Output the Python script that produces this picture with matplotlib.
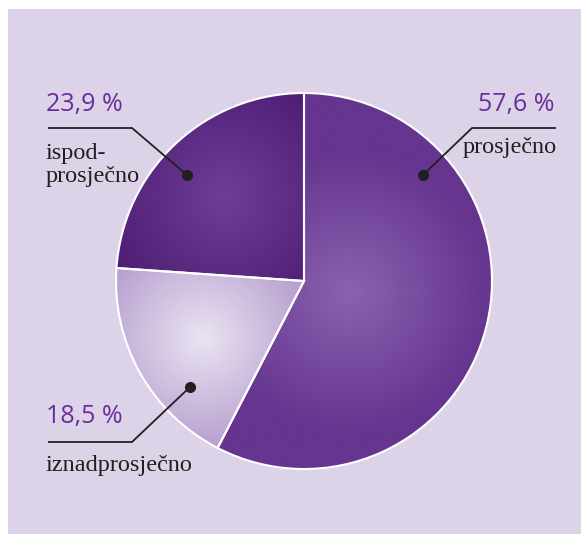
import numpy as np
import matplotlib
matplotlib.use("Agg")
import matplotlib.pyplot as plt
from matplotlib.colors import to_rgb

# podaci
labels = ["prosječno", "iznadprosječno", "ispod-\nprosječno"]
shares = [57.6, 18.5, 23.9]
pct_text = ["57,6 %", "18,5 %", "23,9 %"]
edge_colors = ["#65358f", "#a78cc5", "#4b1a70"]
center_colors = ["#8a62b0", "#ebe4f2", "#6e3f98"]
glow_pos = [0.25, 0.62, 0.62]

W, H = 581, 534
fig = plt.figure(figsize=(W / 100, H / 100), dpi=100)
fig.patch.set_facecolor("white")
ax = fig.add_axes([0, 0, 1, 1])

bg = plt.Rectangle((8, 0), W - 8, H - 9, facecolor="#dcd3e8", edgecolor="none", zorder=0)
ax.add_patch(bg)

cx, cy, R = 304, H - 281, 188
wedges, _ = ax.pie(shares, startangle=90, counterclock=False, center=(cx, cy), radius=R,
                   colors=edge_colors, wedgeprops=dict(edgecolor="white", linewidth=1.5),
                   frame=True)

# radijalni gradijent u svakom isječku
n = 400
xs = np.linspace(cx - R, cx + R, n)
ys = np.linspace(cy - R, cy + R, n)
gx, gy = np.meshgrid(xs, ys)
for w, c0, c1, gp in zip(wedges, center_colors, edge_colors, glow_pos):
    mid = np.deg2rad((w.theta1 + w.theta2) / 2)
    hx, hy = cx + gp * R * np.cos(mid), cy + gp * R * np.sin(mid)
    d = np.sqrt((gx - hx) ** 2 + (gy - hy) ** 2) / (R * 0.75)
    t = np.clip(d, 0, 1)[..., None]
    img = np.array(to_rgb(c0)) * (1 - t) + np.array(to_rgb(c1)) * t
    im = ax.imshow(img, extent=(cx - R, cx + R, cy - R, cy + R), origin="lower",
                   zorder=w.get_zorder() + 0.1, interpolation="bilinear")
    im.set_clip_path(w)
    w.set_facecolor("none")
    w.set_zorder(w.get_zorder() + 0.2)

ax.set_xlim(0, W)
ax.set_ylim(0, H)
ax.set_aspect("auto")
ax.axis("off")

pct_font = dict(family="Open Sans", fontsize=18, color="#6a2d9c")
lab_font = dict(family="Liberation Serif", fontsize=17.5, color="#231f20")

def leader(pts, dot):
    px = [p[0] for p in pts]
    py = [H - p[1] for p in pts]
    ax.plot(px, py, color="#231f20", lw=1.3, zorder=5, solid_capstyle="butt")
    ax.plot(dot[0], H - dot[1], "o", color="#231f20", ms=7, zorder=6)

# 57,6 %
ax.text(555, H - 105, pct_text[0], ha="right", va="center", **pct_font)
leader([(556, 128), (472, 128), (423, 175)], (423, 175))
ax.text(557, H - 148, labels[0], ha="right", va="center", **lab_font)

# 18,5 %
ax.text(46, H - 417, pct_text[1], ha="left", va="center", **pct_font)
leader([(48, 442), (132, 442), (190, 387)], (190, 387))
ax.text(46, H - 465, labels[1], ha="left", va="center", **lab_font)

# 23,9 %
ax.text(46, H - 105, pct_text[2], ha="left", va="center", **pct_font)
leader([(48, 128), (132, 128), (187, 175)], (187, 175))
ax.text(46, H - 165, labels[2], ha="left", va="center", linespacing=1.1, **lab_font)

fig.savefig("out.png", dpi=100, facecolor=fig.get_facecolor())
